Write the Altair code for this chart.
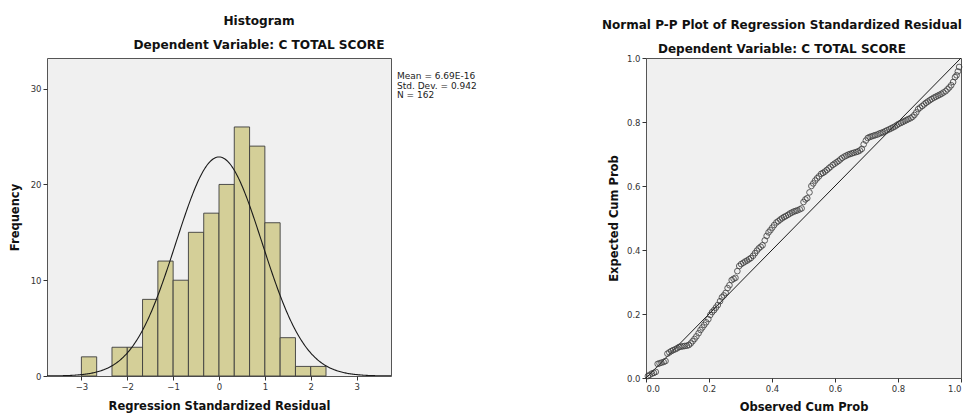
import altair as alt
import pandas as pd

FONT = "DejaVu Sans"

# ---------------- Histogram data ----------------
bin_left = [-3.0, -2.333, -2.0, -1.667, -1.333, -1.0, -0.667, -0.333, 0.0, 0.333, 0.667, 1.0, 1.333, 1.667, 2.0]
bin_right = [-2.667, -2.0, -1.667, -1.333, -1.0, -0.667, -0.333, 0.0, 0.333, 0.667, 1.0, 1.333, 1.667, 2.0, 2.333]
frequency = [2, 3, 3, 8, 12, 10, 15, 17, 20, 26, 24, 16, 4, 1, 1]
MEAN = 6.69e-16
SD = 0.942
N = 162
BIN_W = 1.0 / 3.0
hist_x_ticks = [-3, -2, -1, 0, 1, 2, 3]
hist_y_ticks = [0, 10, 20, 30]
stats_text = "Mean = 6.69E-16\nStd. Dev. = 0.942\nN = 162"

# ---------------- P-P plot data ----------------
pp_observed = [
    0.006, 0.012, 0.019, 0.025, 0.031, 0.037, 0.043, 0.049, 0.056, 0.062,
    0.068, 0.074, 0.080, 0.086, 0.093, 0.099, 0.105, 0.111, 0.117, 0.123,
    0.130, 0.136, 0.142, 0.148, 0.154, 0.160, 0.167, 0.173, 0.179, 0.185,
    0.191, 0.198, 0.204, 0.210, 0.216, 0.222, 0.228, 0.235, 0.241, 0.247,
    0.253, 0.259, 0.265, 0.272, 0.278, 0.284, 0.290, 0.296, 0.302, 0.309,
    0.315, 0.321, 0.327, 0.333, 0.340, 0.346, 0.352, 0.358, 0.364, 0.370,
    0.377, 0.383, 0.389, 0.395, 0.401, 0.407, 0.414, 0.420, 0.426, 0.432,
    0.438, 0.444, 0.451, 0.457, 0.463, 0.469, 0.475, 0.481, 0.488, 0.494,
    0.500, 0.506, 0.512, 0.519, 0.525, 0.531, 0.537, 0.543, 0.549, 0.556,
    0.562, 0.568, 0.574, 0.580, 0.586, 0.593, 0.599, 0.605, 0.611, 0.617,
    0.623, 0.630, 0.636, 0.642, 0.648, 0.654, 0.660, 0.667, 0.673, 0.679,
    0.685, 0.691, 0.698, 0.704, 0.710, 0.716, 0.722, 0.728, 0.735, 0.741,
    0.747, 0.753, 0.759, 0.765, 0.772, 0.778, 0.784, 0.790, 0.796, 0.802,
    0.809, 0.815, 0.821, 0.827, 0.833, 0.840, 0.846, 0.852, 0.858, 0.864,
    0.870, 0.877, 0.883, 0.889, 0.895, 0.901, 0.907, 0.914, 0.920, 0.926,
    0.932, 0.938, 0.944, 0.951, 0.957, 0.963, 0.969, 0.975, 0.981, 0.986,
    0.990, 0.994,
]
pp_expected = [
    0.006, 0.010, 0.014, 0.016, 0.019, 0.044, 0.046, 0.048, 0.050, 0.053,
    0.076, 0.080, 0.084, 0.087, 0.090, 0.093, 0.097, 0.098, 0.099, 0.100,
    0.101, 0.103, 0.108, 0.115, 0.122, 0.130, 0.140, 0.150, 0.158, 0.166,
    0.174, 0.184, 0.197, 0.206, 0.212, 0.220, 0.228, 0.240, 0.252, 0.258,
    0.266, 0.281, 0.290, 0.306, 0.310, 0.313, 0.334, 0.350, 0.356, 0.360,
    0.364, 0.367, 0.371, 0.375, 0.382, 0.390, 0.398, 0.405, 0.410, 0.415,
    0.430, 0.444, 0.455, 0.462, 0.470, 0.478, 0.486, 0.490, 0.495, 0.499,
    0.503, 0.506, 0.510, 0.514, 0.517, 0.520, 0.522, 0.524, 0.527, 0.530,
    0.550, 0.558, 0.562, 0.580, 0.600, 0.608, 0.617, 0.624, 0.630, 0.638,
    0.641, 0.645, 0.650, 0.655, 0.660, 0.666, 0.670, 0.674, 0.678, 0.683,
    0.688, 0.692, 0.695, 0.698, 0.700, 0.702, 0.704, 0.706, 0.708, 0.711,
    0.716, 0.730, 0.742, 0.750, 0.753, 0.755, 0.757, 0.759, 0.761, 0.764,
    0.766, 0.768, 0.771, 0.774, 0.777, 0.780, 0.783, 0.786, 0.790, 0.794,
    0.797, 0.800, 0.803, 0.806, 0.809, 0.812, 0.816, 0.822, 0.830, 0.840,
    0.845, 0.850, 0.855, 0.860, 0.864, 0.868, 0.872, 0.876, 0.879, 0.882,
    0.885, 0.888, 0.892, 0.896, 0.902, 0.908, 0.915, 0.925, 0.940, 0.946,
    0.958, 0.972,
]
pp_ticks = [0.0, 0.2, 0.4, 0.6, 0.8, 1.0]
diag = [0.0, 1.0]


def make_axis(title, values, fmt=None, title_pad=8):
    kw = dict(
        title=title, values=values, grid=False, domain=False, ticks=True,
        tickSize=4, tickColor="#333333", tickWidth=1,
        labelFont=FONT, labelFontSize=8.5, labelColor="#333333", labelPadding=2,
        titleFont=FONT, titleFontSize=11.5, titleFontWeight="bold",
        titleColor="#111111", titlePadding=title_pad,
    )
    if fmt:
        kw["format"] = fmt
    return alt.Axis(**kw)


hist_df = pd.DataFrame({"left": bin_left, "right": bin_right, "freq": frequency})
xs = alt.Scale(domain=[-3.75, 3.75], nice=False, zero=False)
ys = alt.Scale(domain=[0, 33.2], nice=False)

bars = alt.Chart(hist_df).mark_rect(fill="#d4cf98", stroke="#3c3c3c", strokeWidth=0.9).encode(
    x=alt.X("left:Q", scale=xs, axis=make_axis("Regression Standardized Residual", hist_x_ticks, title_pad=9.5)),
    x2="right:Q",
    y=alt.Y("freq:Q", scale=ys, axis=make_axis("Frequency", hist_y_ticks, title_pad=10)),
    y2=alt.datum(0),
)

curve = alt.Chart(alt.sequence(-3.75, 3.76, 0.02, as_="z")).transform_calculate(
    f=f"{N}*{BIN_W}*exp(-0.5*pow((datum.z-({MEAN}))/{SD},2))/({SD}*sqrt(2*PI))"
).mark_line(color="#1a1a1a", strokeWidth=1.1, clip=True).encode(
    x=alt.X("z:Q", scale=xs),
    y=alt.Y("f:Q", scale=ys),
)

stats = alt.Chart(pd.DataFrame({"t": [stats_text]})).mark_text(
    align="left", baseline="top", lineBreak="\n", lineHeight=9.5,
    font=FONT, fontSize=9, color="#222222",
).encode(x=alt.value(350), y=alt.value(14), text="t:N")

hist = alt.layer(bars, curve, stats).properties(
    width=344, height=318,
    title=alt.TitleParams(
        text=["Histogram", "Dependent Variable: C TOTAL SCORE"],
        font=FONT, fontSize=12.15, fontWeight="bold", color="#111111",
        lineHeight=24, anchor="middle", frame="group", offset=6.6, dx=40,
    ),
)

pp_df = pd.DataFrame({"obs": pp_observed, "exp": pp_expected})
diag_df = pd.DataFrame({"a": diag, "b": diag})
ps = alt.Scale(domain=[0, 1], nice=False)

diag_line = alt.Chart(diag_df).mark_line(color="#1a1a1a", strokeWidth=1).encode(
    x=alt.X("a:Q", scale=ps, axis=make_axis("Observed Cum Prob", pp_ticks, ".1f", title_pad=9)),
    y=alt.Y("b:Q", scale=ps, axis=make_axis("Expected Cum Prob", pp_ticks, ".1f", title_pad=7.4)),
)
points = alt.Chart(pp_df).mark_point(
    shape="circle", filled=False, size=32, color="#3a3a3a", strokeWidth=0.8, opacity=1,
).encode(
    x=alt.X("obs:Q", scale=ps),
    y=alt.Y("exp:Q", scale=ps),
)

pp = alt.layer(diag_line, points).properties(
    width=315, height=320,
    title=alt.TitleParams(
        text=["Normal P-P Plot of Regression Standardized Residual", "Dependent Variable: C TOTAL SCORE"],
        font=FONT, fontSize=12.0, fontWeight="bold", color="#111111",
        lineHeight=24, anchor="middle", frame="group", offset=-2.4, dx=-21.5,
    ),
)

# The reference is cropped at the window's right edge: a fixed-size canvas
# (autosize none) clips the content there in the same way.
chart = alt.hconcat(hist, pp, spacing=123).properties(
    autosize=alt.AutoSizeParams(type="none"),
    padding={"left": 39, "top": 50, "right": 918, "bottom": 356},
).configure_view(fill="#f0f0f0", stroke="#555555", strokeWidth=1)

chart.save("out.html", embed_options={"renderer": "svg", "actions": False})
